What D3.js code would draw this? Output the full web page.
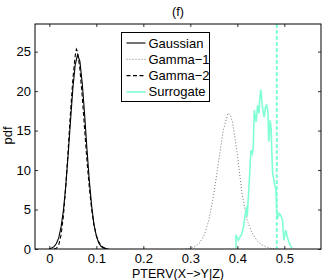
<!DOCTYPE html>
<html>
<head>
<meta charset="utf-8">
<script src="https://cdn.jsdelivr.net/npm/d3@7"></script>
<style>
  body { margin: 0; background: #fff; }
  text { font-family: "Liberation Sans", Arial, sans-serif; }
</style>
</head>
<body>
<div id="chart"></div>
<script>
// Gaussian (solid black)
const gaussX = [0.0, 0.005, 0.01, 0.015, 0.02, 0.025, 0.03, 0.035, 0.04, 0.045, 0.05, 0.055, 0.06, 0.065, 0.07, 0.075, 0.08, 0.085, 0.09, 0.095, 0.10, 0.105, 0.11, 0.115, 0.12, 0.125];
const gaussY = [0.04, 0.12, 0.3, 0.7, 1.4, 2.8, 4.9, 8.0, 11.9, 16.2, 20.3, 23.3, 24.6, 23.8, 21.0, 17.1, 12.7, 8.7, 5.5, 3.1, 1.65, 0.8, 0.35, 0.14, 0.05, 0.02];

// Gamma-1 (dotted grey)
const gamma1X = [0.29, 0.30, 0.31, 0.32, 0.33, 0.34, 0.35, 0.36, 0.37, 0.38, 0.385, 0.39, 0.40, 0.41, 0.42, 0.43, 0.44, 0.45, 0.46, 0.47, 0.48];
const gamma1Y = [0.0, 0.1, 0.3, 0.8, 1.8, 3.8, 7.0, 11.0, 15.0, 17.2, 17.0, 16.0, 12.0, 7.0, 3.8, 2.2, 1.2, 0.6, 0.3, 0.1, 0.0];

// Gamma-2 (dashed black)
const gamma2X = [0.01, 0.015, 0.02, 0.025, 0.03, 0.035, 0.04, 0.045, 0.05, 0.055, 0.0575, 0.06, 0.065, 0.07, 0.075, 0.08, 0.085, 0.09, 0.095, 0.10, 0.105, 0.11, 0.115, 0.12, 0.125];
const gamma2Y = [0.0, 0.1, 0.5, 1.8, 4.2, 8.0, 12.5, 17.3, 21.5, 24.5, 25.3, 25.0, 22.8, 19.3, 15.2, 11.2, 7.8, 5.0, 3.0, 1.7, 0.9, 0.45, 0.2, 0.08, 0.0];

// Surrogate (cyan, jagged)
const surrX = [0.397, 0.397, 0.402, 0.406, 0.409, 0.413, 0.416, 0.420, 0.421, 0.4255, 0.429, 0.432, 0.434, 0.436, 0.440, 0.443, 0.446, 0.448, 0.450, 0.453, 0.457, 0.460, 0.4625, 0.465, 0.467, 0.470, 0.472, 0.473, 0.475, 0.478, 0.482, 0.484, 0.486, 0.489, 0.492, 0.496, 0.499, 0.503, 0.506, 0.510, 0.516];
const surrY = [0.1, 1.8, 1.1, 1.6, 1.8, 2.8, 4.1, 5.4, 4.1, 8.7, 12.5, 12.1, 13.0, 17.6, 16.1, 18.2, 17.2, 19.3, 20.2, 18.2, 16.7, 18.0, 18.2, 17.4, 13.6, 16.3, 15.1, 13.0, 9.6, 8.7, 7.5, 4.5, 3.9, 4.5, 4.3, 3.7, 1.1, 2.4, 1.6, 0.8, 0.1];

// observed value (vertical dashed line)
const observed = 0.484;

const xTicks = [0, 0.1, 0.2, 0.3, 0.4, 0.5];
const yTicks = [0, 5, 10, 15, 20, 25];
const seriesNames = ["Gaussian", "Gamma\u22121", "Gamma\u22122", "Surrogate"];

const W = 327, H = 280;
const margin = { top: 24, right: 6, bottom: 31, left: 35 };
const width = W - margin.left - margin.right;
const height = H - margin.top - margin.bottom;
const cyan = "#7fffd4";
const fs = "13px";

const svg = d3.select("#chart").append("svg")
    .attr("width", W)
    .attr("height", H);

const g = svg.append("g")
    .attr("transform", `translate(${margin.left},${margin.top})`);

const x = d3.scaleLinear().domain([-0.0305, 0.578]).range([0, width]);
const y = d3.scaleLinear().domain([0, 28.5]).range([height, 0]);

// clip
g.append("clipPath").attr("id", "clip")
    .append("rect").attr("width", width).attr("height", height);

const plot = g.append("g").attr("clip-path", "url(#clip)");

const line = d3.line().x(d => x(d[0])).y(d => y(d[1]));
const zip = (a, b) => a.map((v, i) => [v, b[i]]);

const series = [
    { name: seriesNames[0], pts: zip(gaussX, gaussY), color: "#000", dash: null, w: 1.1 },
    { name: seriesNames[1], pts: zip(gamma1X, gamma1Y), color: "#777", dash: "1,2", w: 1 },
    { name: seriesNames[2], pts: zip(gamma2X, gamma2Y), color: "#000", dash: "4,2.5", w: 1.1 },
    { name: seriesNames[3], pts: zip(surrX, surrY), color: cyan, dash: null, w: 1.6 }
];

series.forEach(s => {
    plot.append("path")
        .datum(s.pts)
        .attr("fill", "none")
        .attr("stroke", s.color)
        .attr("stroke-width", s.w)
        .attr("stroke-dasharray", s.dash)
        .attr("d", line);
});

// observed line
plot.append("line")
    .attr("x1", x(observed)).attr("x2", x(observed))
    .attr("y1", 0).attr("y2", height)
    .attr("stroke", cyan)
    .attr("stroke-width", 2)
    .attr("stroke-dasharray", "4,2");

// axes with inner ticks on all sides
const tickLen = 3;
const axB = g.append("g").attr("transform", `translate(0,${height})`)
    .call(d3.axisBottom(x).tickValues(xTicks).tickSize(-tickLen).tickPadding(5).tickFormat(d3.format("")));
const axT = g.append("g")
    .call(d3.axisTop(x).tickValues(xTicks).tickSize(-tickLen).tickFormat(""));
const axL = g.append("g")
    .call(d3.axisLeft(y).tickValues(yTicks).tickSize(-tickLen).tickPadding(4));
const axR = g.append("g").attr("transform", `translate(${width},0)`)
    .call(d3.axisRight(y).tickValues(yTicks).tickSize(-tickLen).tickFormat(""));

[axB, axT, axL, axR].forEach(a => {
    a.select(".domain").remove();
    a.selectAll("line").attr("stroke", "#000").attr("stroke-width", 0.8);
    a.selectAll("text").attr("fill", "#000").style("font-size", fs);
});

g.append("rect")
    .attr("width", width).attr("height", height)
    .attr("fill", "none").attr("stroke", "#000").attr("stroke-width", 1);

// title
svg.append("text")
    .attr("x", margin.left + width / 2)
    .attr("y", 15.5)
    .attr("text-anchor", "middle")
    .style("font-size", "12.5px")
    .text("(f)");

// x label
svg.append("text")
    .attr("x", margin.left + width / 2)
    .attr("y", 278)
    .attr("text-anchor", "middle")
    .style("font-size", "12.5px")
    .text("PTERV(X\u2212>Y|Z)");

// y label
svg.append("text")
    .attr("transform", `translate(12,${margin.top + height / 2 - 1}) rotate(-90)`)
    .attr("text-anchor", "middle")
    .style("font-size", fs)
    .text("pdf");

// legend
const leg = svg.append("g").attr("transform", "translate(121.5,32.5)");
leg.append("rect")
    .attr("width", 88).attr("height", 69)
    .attr("fill", "#fff").attr("stroke", "#000").attr("stroke-width", 1);
series.forEach((s, i) => {
    const yy = 10.5 + i * 16.3;
    leg.append("line")
        .attr("x1", 5).attr("x2", 24)
        .attr("y1", yy).attr("y2", yy)
        .attr("stroke", s.color)
        .attr("stroke-width", s.w)
        .attr("stroke-dasharray", s.dash);
    leg.append("text")
        .attr("x", 27).attr("y", yy + 4.5)
        .style("font-size", fs)
        .text(s.name);
});
</script>
</body>
</html>
